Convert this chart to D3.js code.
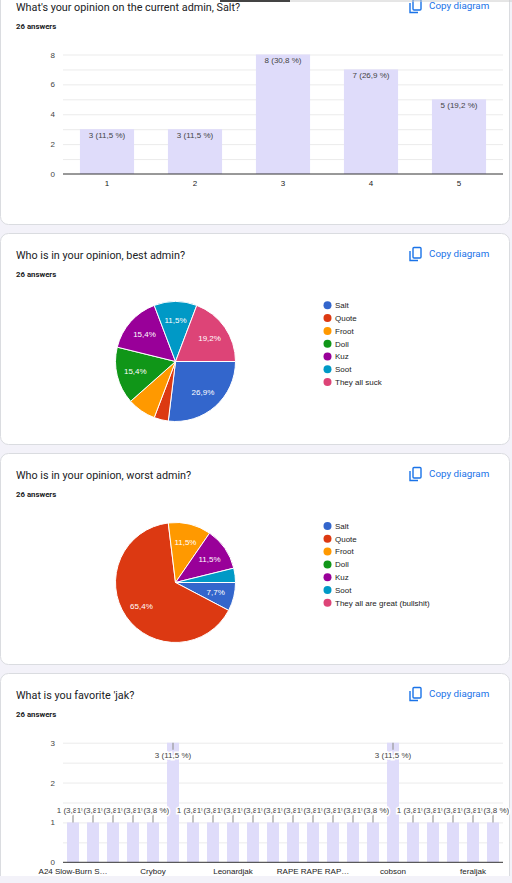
<!DOCTYPE html>
<html><head><meta charset="utf-8">
<script src="https://cdn.jsdelivr.net/npm/d3@7"></script>
<style>
html,body{margin:0;padding:0;background:#f3f2f9;overflow:hidden}
svg{display:block}
text{font-family:"Liberation Sans",Arial,sans-serif}
.title{font-family:Roboto,"Noto Sans",sans-serif;font-size:10.8px;fill:#202124}
.ans{font-family:Roboto,sans-serif;font-size:7.8px;font-weight:700;fill:#202124}
.copy{font-family:Roboto,sans-serif;font-size:9.8px;fill:#1a73e8}
</style></head><body>
<svg id="c" width="512" height="883"></svg>
<script>
// ---------- data ----------
const totalAnswers = 26;
const titles = ["What's your opinion on the current admin, Salt?","Who is in your opinion, best admin?","Who is in your opinion, worst admin?","What is you favorite 'jak?"];
const ratingCategories = ["1","2","3","4","5"];
const ratingCounts = [3,3,8,7,5];
const ratingYTicks = [0,2,4,6,8];
const bestNames = ["Salt","Quote","Froot","Doll","Kuz","Soot","They all suck"];
const bestCounts = [7,1,2,4,4,3,5];
const worstNames = ["Salt","Quote","Froot","Doll","Kuz","Soot","They all are great (bullshit)"];
const worstCounts = [2,17,3,0,3,1,0];
const pieColors = ["#3366cc","#dc3912","#ff9900","#109618","#990099","#0099c6","#dd4477"];
const jakCategories = ["A24 Slow-Burn S…","","","","Cryboy","","","","Leonardjak","","","","RAPE RAPE RAP…","","","","cobson","","","","feraljak",""];
const jakCounts = [1,1,1,1,1,3,1,1,1,1,1,1,1,1,1,1,3,1,1,1,1,1];
const jakYTicks = [0,1,2,3];

// ---------- layout ----------
const svg = d3.select("#c");
const W = 512;
const cardTops = [-15, 233, 453, 673];
const cardBottoms = [224, 444, 664, 900];
const BAR = "#dfdcfa";
const FS = "8px";
const pctBar = v => "(" + d3.format(".1f")(v/totalAnswers*100).replace(".",",") + " %)";
const pctPie = v => d3.format(".1f")(v/totalAnswers*100).replace(".",",") + "%";

svg.append("rect").attr("x",0).attr("y",0).attr("width",W).attr("height",883).attr("fill","#f3f2f9");

cardTops.forEach((t,i)=>{
  svg.append("rect").attr("x",0.5).attr("y",t+0.5).attr("width",509).attr("height",cardBottoms[i]-t)
    .attr("rx",8).attr("fill","#fff").attr("stroke","#dadce0");
  svg.append("text").attr("class","title").attr("x",16).attr("y",t+26).text(titles[i]);
  svg.append("text").attr("class","ans").attr("x",16).attr("y",t+43.5).text(totalAnswers+" answers");
  const cy = t+24;
  const ic = svg.append("g").attr("fill","none").attr("stroke","#1a73e8").attr("stroke-width",1.4);
  ic.append("path").attr("d",`M410,${cy-6}V${cy+3.5}H418`);
  ic.append("rect").attr("x",413).attr("y",cy-9.5).attr("width",8).attr("height",10.5).attr("rx",1);
  svg.append("text").attr("class","copy").attr("x",429).attr("y",cy).text("Copy diagram");
});
svg.append("rect").attr("x",220).attr("y",0).attr("width",70).attr("height",2).attr("fill","#444");
svg.append("line").attr("x1",290).attr("x2",512).attr("y1",1).attr("y2",1).attr("stroke","#ccc");
svg.append("rect").attr("x",0).attr("y",876).attr("width",W).attr("height",7).attr("fill","#f3f2f9");

// ---------- bar charts ----------
function barChart(cfg){
  const {cats, counts, yMax, yTicks, gridStep, y0, y1, inside} = cfg;
  const x = d3.scaleBand().domain(d3.range(cats.length)).range([63,503]).paddingInner(cfg.pad).paddingOuter(cfg.pad/2);
  const y = d3.scaleLinear().domain([0,yMax]).range([y0,y1]);
  const g = svg.append("g");
  const grid = d3.range(gridStep, yMax+1e-9, gridStep);
  g.append("g").attr("transform","translate(63,0)")
    .call(d3.axisLeft(y).tickValues(grid).tickSize(-440).tickFormat(""))
    .call(s=>{s.select(".domain").remove(); s.selectAll("line").attr("stroke","#ebebeb");});
  g.append("g").attr("transform","translate(63,0)")
    .call(d3.axisLeft(y).tickValues(yTicks).tickFormat(d3.format("d")).tickSize(0).tickPadding(8))
    .call(s=>{s.select(".domain").remove(); s.selectAll("text").attr("fill","#444").style("font-size",FS).style("font-family","'Liberation Sans',Arial");});
  g.append("g").attr("transform",`translate(0,${y0})`)
    .call(d3.axisBottom(x).tickValues(d3.range(cats.length).filter(i=>cats[i]!=="")).tickFormat(i=>cats[i]).tickSize(0).tickPadding(cfg.xPad))
    .call(s=>{s.select(".domain").remove(); s.selectAll("text").attr("fill","#222").style("font-size",FS).style("font-family","'Liberation Sans',Arial");});
  g.selectAll("rect.bar").data(counts).join("rect").attr("class","bar")
    .attr("x",(d,i)=>x(i)).attr("width",x.bandwidth())
    .attr("y",d=>y(d)).attr("height",d=>y0-y(d)).attr("fill",BAR);
  g.append("line").attr("x1",63).attr("x2",503).attr("y1",y0).attr("y2",y0).attr("stroke","#333").attr("stroke-width",1);
  const ann = g.append("g");
  counts.forEach((d,i)=>{
    const cx = x(i)+x.bandwidth()/2;
    const label = d + " " + pctBar(d);
    if(inside){
      ann.append("text").attr("x",cx).attr("y",y(d)+8.8).attr("text-anchor","middle")
        .attr("fill","#444").style("font-size",FS).text(label);
    } else {
      const top = d>=yMax;
      const sy = y(d), ey = top ? y(d)+7 : y(d)-8;
      ann.append("line").attr("x1",cx).attr("x2",cx).attr("y1",sy).attr("y2",ey).attr("stroke","#999").attr("stroke-width",1.2);
      ann.append("text").attr("x",cx).attr("y", top ? y(d)+15.3 : y(d)-9.6).attr("text-anchor","middle")
        .attr("fill","#444").attr("stroke","#fff").attr("stroke-width",3).attr("paint-order","stroke")
        .style("font-size",FS).text(label);
    }
  });
}

barChart({cats:ratingCategories, counts:ratingCounts, yMax:8, yTicks:ratingYTicks, gridStep:1, y0:174, y1:54.5, inside:true, pad:0.385, xPad:6});
barChart({cats:jakCategories, counts:jakCounts, yMax:3, yTicks:jakYTicks, gridStep:0.5, y0:862.3, y1:742.7, inside:false, pad:0.4, xPad:5.8});

// ---------- pies ----------
function pieChart(names, counts, cx, cy, r, legendY){
  const pie = d3.pie().sort(null).value(d=>d).startAngle(Math.PI/2).endAngle(Math.PI/2+2*Math.PI);
  const arcs = pie(counts);
  const arc = d3.arc().innerRadius(0).outerRadius(r);
  const lab = d3.arc().innerRadius(r*0.69).outerRadius(r*0.69);
  const g = svg.append("g").attr("transform",`translate(${cx},${cy})`);
  g.selectAll("path").data(arcs.filter(a=>a.value>0)).join("path")
    .attr("d",arc).attr("fill",a=>pieColors[a.index]).attr("stroke","#fff").attr("stroke-width",1);
  arcs.filter(a=>a.value>0).forEach(a=>{
    const c = lab.centroid(a);
    const t = g.append("text").attr("x",c[0]).attr("y",c[1]+3).attr("text-anchor","middle")
      .attr("fill","#fff").style("font-size","8px").text(pctPie(a.value));
    const w = t.node().getComputedTextLength() + 4, h = 11;
    const mid = (a.startAngle+a.endAngle)/2;
    const need = w*Math.abs(Math.cos(mid)) + h*Math.abs(Math.sin(mid));
    const avail = r*0.69*(a.endAngle-a.startAngle);
    if(need > avail) t.remove();
  });
  const lg = svg.append("g");
  names.forEach((n,i)=>{
    const yy = legendY + i*12.8;
    lg.append("circle").attr("cx",327.5).attr("cy",yy).attr("r",4).attr("fill",pieColors[i]);
    lg.append("text").attr("x",335).attr("y",yy+2.8).attr("fill","#222").style("font-size","8px").text(n);
  });
}
pieChart(bestNames, bestCounts, 175.5, 361.5, 60, 305.3);
pieChart(worstNames, worstCounts, 175.5, 582.5, 60, 526);
</script>
</body></html>
